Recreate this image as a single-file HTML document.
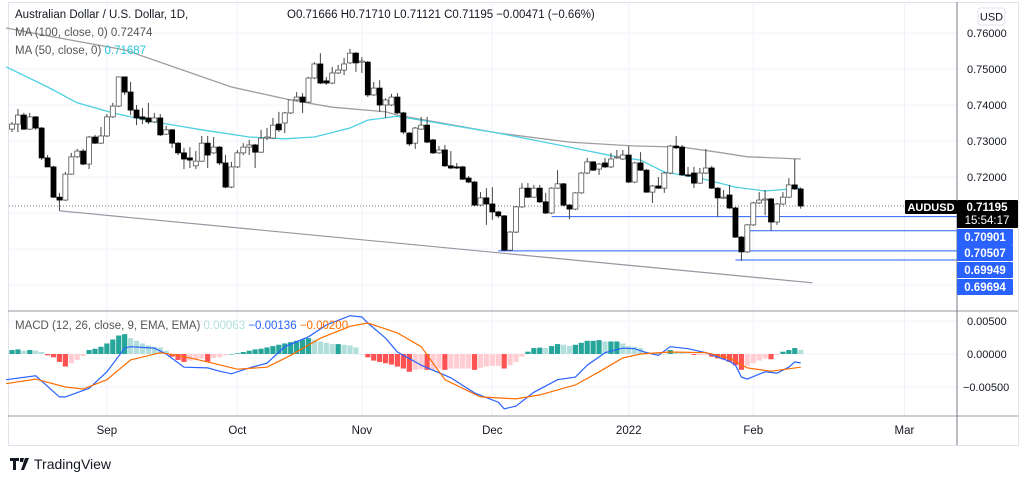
<!DOCTYPE html>
<html><head><meta charset="utf-8">
<style>
html,body{margin:0;padding:0;background:#fff;width:1024px;height:480px;overflow:hidden;font-family:"Liberation Sans",sans-serif;}
svg text{font-family:"Liberation Sans",sans-serif;}
</style></head>
<body>
<svg id="chart" width="1024" height="480" viewBox="0 0 1024 480" xmlns="http://www.w3.org/2000/svg">
<rect x="8.5" y="2.5" width="1010" height="443" fill="#fff" stroke="#e0e3eb"/>
<g id="grid"></g>
<g id="price"></g>
<g id="macd"></g>
<line x1="8" y1="311" x2="1018" y2="311" stroke="#9598a1"/>
<line x1="8" y1="416" x2="1018" y2="416" stroke="#9598a1"/>
<line x1="957" y1="2" x2="957" y2="445" stroke="#787b86"/>
<g id="axes"></g>
<g font-size="11.5" fill="#131722">
<text x="15" y="18" fill="#131722">Australian Dollar / U.S. Dollar, 1D,</text>
<text x="287" y="18" fill="#131722">O0.71666  H0.71710  L0.71121  C0.71195  −0.00471 (−0.66%)</text>
<text x="15" y="36" fill="#555">MA (100, close, 0)  <tspan fill="#555">0.72474</tspan></text>
<text x="15" y="54" fill="#555">MA (50, close, 0)  <tspan fill="#26c6da">0.71687</tspan></text>
<text x="15" y="329" fill="#555">MACD (12, 26, close, 9, EMA, EMA)  <tspan fill="#b2dfdb">0.00063</tspan>  <tspan fill="#2962ff">−0.00136</tspan>  <tspan fill="#ff6d00">−0.00200</tspan></text>
</g>
<g><rect x="978" y="8" width="27" height="17" rx="3" fill="#fff" stroke="#e0e3eb"/><text x="991.5" y="20.5" font-size="11" text-anchor="middle" fill="#131722">USD</text></g>
<g>
<path d="M10 458h9v3h-3v9h-3v-9h-3z M20 458h4l-1 4h-3z M25 458h4l-5 12h-3z" fill="#131722"/>
<text x="34" y="469" font-size="14" fill="#131722">TradingView</text></g>
</svg>
<script>
// ---- data ----
const dates=["Sep","Oct","Nov","Dec","2022","Feb","Mar"];
const dateIdx=[16,38,59,81,104,125,150.5];
const priceTicks=[0.76,0.75,0.74,0.73,0.72,0.71];
const macdTicks=[0.005,0,-0.005];
const opens=[.7333,.7347,.7372,.7333,.7367,.7336,.7253,.7228,.7144,.7136,.7208,.7256,.7272,.7236,.7311,.7294,.7314,.7367,.7397,.7478,.7436,.7386,.7367,.7364,.7353,.7364,.7319,.7331,.7294,.7267,.7253,.7231,.7244,.7294,.7267,.7283,.7239,.7172,.7228,.7267,.7283,.7289,.7269,.7308,.7308,.7347,.7350,.7378,.7414,.7422,.7408,.7475,.7514,.7467,.7461,.7489,.7497,.7517,.7544,.7519,.7519,.7428,.7447,.7400,.7400,.7422,.7378,.7322,.7294,.7333,.7344,.7303,.7267,.7275,.7231,.7228,.7228,.7197,.7186,.7122,.7142,.7125,.7103,.7092,.6997,.7047,.7117,.7169,.7144,.7169,.7131,.7100,.7169,.7181,.7122,.7111,.7156,.7211,.7242,.7222,.7239,.7228,.7253,.7250,.7261,.7186,.7239,.7219,.7158,.7175,.7169,.7211,.7286,.7283,.7206,.7211,.7183,.7211,.7225,.7169,.7142,.7150,.7114,.7033,.6992,.7067,.7128,.7136,.7139,.7075,.7125,.7144,.7178,.71666];
const closes=[.7347,.7372,.7333,.7367,.7336,.7253,.7228,.7144,.7136,.7208,.7256,.7272,.7236,.7311,.7294,.7314,.7367,.7397,.7478,.7436,.7386,.7364,.7361,.7353,.7364,.7317,.7331,.7294,.7267,.7250,.7247,.7244,.7294,.7261,.7283,.7239,.7172,.7228,.7267,.7283,.7289,.7269,.7308,.7311,.7344,.7331,.7378,.7414,.7422,.7408,.7475,.7514,.7461,.7461,.7489,.7497,.7514,.7544,.7517,.7522,.7428,.7447,.7400,.7414,.7422,.7378,.7325,.7292,.7336,.7344,.7297,.7267,.7275,.7231,.7225,.7225,.7194,.7186,.7122,.7142,.7125,.7103,.7092,.6997,.7047,.7117,.7169,.7144,.7169,.7131,.7100,.7169,.7181,.7122,.7111,.7156,.7211,.7242,.7219,.7236,.7228,.7250,.7256,.7261,.7186,.7239,.7219,.7158,.7175,.7169,.7211,.7286,.7281,.7206,.7203,.7183,.7211,.7225,.7169,.7142,.7144,.7114,.7033,.6992,.7067,.7128,.7136,.7139,.7075,.7125,.7144,.7178,.7167,.71195];
const highs=[.7353,.7389,.7378,.7378,.7369,.7339,.7261,.7231,.7156,.7214,.7267,.7278,.7278,.7314,.7317,.7339,.7375,.7406,.7478,.7478,.7464,.7400,.7392,.7406,.7378,.7375,.7342,.7333,.7297,.7281,.7283,.7272,.7314,.7314,.7311,.7286,.7261,.7242,.7275,.7294,.7303,.7292,.7331,.7336,.7364,.7381,.7381,.7414,.7436,.7433,.7478,.7519,.7544,.7478,.7506,.7511,.7531,.7556,.7547,.7533,.7522,.7464,.7469,.7419,.7431,.7433,.7381,.7325,.7339,.7367,.7367,.7306,.7286,.7289,.7272,.7239,.7231,.7203,.7189,.7158,.7169,.7172,.7106,.7094,.7050,.7119,.7183,.7183,.7178,.7178,.7156,.7172,.7219,.7183,.7125,.7158,.7214,.7253,.7244,.7239,.7253,.7267,.7275,.7275,.7286,.7242,.7269,.7222,.7178,.7200,.7214,.7289,.7314,.7289,.7228,.7228,.7225,.7278,.7231,.7172,.7164,.7178,.7117,.7036,.7069,.7131,.7158,.7164,.7142,.7128,.7158,.7197,.7250,.71710];
const lows=[.7325,.7325,.7331,.7331,.7331,.7247,.7228,.7142,.7106,.7133,.7206,.7253,.7233,.7222,.7292,.7292,.7311,.7364,.7394,.7428,.7372,.7344,.7347,.7347,.7350,.7314,.7317,.7281,.7261,.7222,.7225,.7222,.7242,.7225,.7264,.7233,.7169,.7169,.7225,.7261,.7261,.7225,.7267,.7303,.7306,.7325,.7322,.7375,.7411,.7378,.7406,.7472,.7458,.7456,.7458,.7486,.7483,.7514,.7492,.7489,.7422,.7425,.7381,.7364,.7397,.7375,.7319,.7286,.7278,.7331,.7294,.7264,.7264,.7228,.7222,.7222,.7192,.7183,.7119,.7119,.7067,.7081,.7086,.6994,.6994,.7044,.7114,.7142,.7142,.7128,.7097,.7097,.7167,.7119,.7083,.7108,.7153,.7208,.7217,.7206,.7225,.7225,.7250,.7247,.7183,.7183,.7217,.7156,.7128,.7167,.7156,.7208,.7278,.7203,.7200,.7169,.7181,.7208,.7167,.7089,.7139,.7111,.7031,.6967,.6989,.7064,.7125,.7094,.7050,.7067,.7122,.7142,.7164,.71121];
const ma100Idx=[-1,8,19,37,47,54,63,65,82,94,105,113,119,124,133];
const ma100Val=[.7614,.7586,.7553,.7450,.7414,.7394,.7381,.7372,.7322,.7297,.7286,.7283,.7269,.7256,.7250];
const ma50Idx=[-1,6,11,17,24,32,40,46,51,57,60,65,82,94,102,106,110,116,122,127,133];
const ma50Val=[.7506,.7450,.7406,.7378,.7353,.7331,.7311,.7306,.7311,.7336,.7358,.7369,.7322,.7283,.7256,.7247,.7214,.7197,.7172,.7161,.7169];
const hist=[.0006,.0007,.0005,.0006,.0005,.0003,-.0002,-.0005,-.0012,-.0019,-.0014,-.0009,-.0003,.0006,.0008,.0011,.0016,.0022,.0028,.0030,.0024,.0020,.0016,.0013,.0011,.0010,.0005,-.0004,-.0009,-.0012,-.0010,-.0008,-.0007,-.0012,-.0006,-.0005,-.0002,.0000,.0001,.0003,.0005,.0007,.0008,.0010,.0012,.0014,.0016,.0018,.0020,.0022,.0024,.0021,.0019,.0017,.0015,.0015,.0014,.0013,.0010,.0000,-.0005,-.0010,-.0012,-.0014,-.0016,-.0019,
-.0022,-.0027,-.0024,-.0023,-.0024,-.0024,-.0022,-.0024,-.0022,-.0022,-.0022,-.0022,-.0024,-.0021,-.0019,-.0018,-.0018,-.0022,-.0017,-.0012,-.0004,.00035,.0009,.00096,.0009,.0012,.0015,.0014,.0012,.0014,.0017,.0020,.0020,.0021,.0019,.0019,.0019,.0016,.0012,.0011,.0009,.00035,.0002,.0001,0,.0006,.00035,.0002,.0001,-.00015,-.00015,-.0001,-.0004,-.00066,-.0008,-.0012,-.0017,-.0024,-.0018,-.0014,-.0010,-.0007,-.0008,-.00015,.00035,.0006,.0009,.00063];
const macdIdx=[-1,4,8,9,13,16,19,20,24,26,29,33,35,37,40,43,46,50,53,57,59,60,63,65,69,74,78,82,83,85,88,92,95,97,100,103,105,107,109,111,114,117,121,122,123,124,127,129,131,132,133];
const macdVal=[-.0039,-.0033,-.0065,-.0065,-.0052,-.0027,.0009,.0011,.0009,0,-.0020,-.0021,-.0026,-.0030,-.0021,-.0014,.0011,.0026,.0044,.0058,.0056,.0047,.0024,.0003,-.0017,-.0036,-.0059,-.0073,-.0083,-.0079,-.0058,-.0039,-.0035,-.0017,.0002,.0009,.0008,.0002,-.0002,.0011,.0008,.0002,-.0011,-.0017,-.0035,-.0038,-.0027,-.0029,-.0020,-.0012,-.00136];
const sigIdx=[-1,4,9,12,16,20,25,28,33,38,43,47,52,57,60,65,69,73,79,85,89,95,99,103,106,111,117,121,124,128,133];
const sigVal=[-.0045,-.0038,-.0050,-.0053,-.0039,-.0009,.0002,-.0002,-.0012,-.0023,-.0020,-.0002,.0024,.0042,.0047,.0032,.0011,-.0039,-.0065,-.0068,-.0062,-.0047,-.0027,-.0006,0,.0003,.0002,-.0006,-.0021,-.0026,-.0020];
const hLevels=[0.70901,0.70507,0.69949,0.69694];
const hStart=[91,124,82,122];
const trendIdx=[8,135];
const trendVal=[0.7106,0.6906];
const lastPrice=0.71195;

// ---- scales ----
const X0=12, DX=5.93;
const xs=i=>X0+i*DX;
const ys=p=>33+(0.76-p)*3600;
const ym=v=>354-v*6600;
const NS='http://www.w3.org/2000/svg';
function mk(tag,attrs,parent){const e=document.createElementNS(NS,tag);for(const k in attrs)e.setAttribute(k,attrs[k]);parent.appendChild(e);return e;}
const grid=document.getElementById('grid'),pr=document.getElementById('price'),md=document.getElementById('macd'),ax=document.getElementById('axes');

// grid
priceTicks.forEach(t=>{const l=mk('line',{x1:9,x2:957,y1:ys(t),y2:ys(t),stroke:'#f0f3fa'},grid);


const tx=mk('text',{x:967,y:ys(t)+4,'font-size':11,fill:'#131722'},ax);tx.textContent=t.toFixed(5);

});
[0.70,0.69].forEach(t=>{const l=mk('line',{x1:9,x2:957,y1:ys(t),y2:ys(t),stroke:'#f0f3fa'},grid);

});
macdTicks.forEach(t=>{const l=mk('line',{x1:9,x2:957,y1:ym(t),y2:ym(t),stroke:'#f0f3fa'},grid);


const tx=mk('text',{x:t<0?963:967,y:ym(t)+4,'font-size':11,fill:'#131722'},ax);tx.textContent=(t<0?'−':'')+Math.abs(t).toFixed(5);

});
dates.forEach((d,k)=>{const x=xs(dateIdx[k]);const l=mk('line',{x1:x,x2:x,y1:3,y2:416,stroke:'#f0f3fa'},grid);


const tx=mk('text',{x:x,y:434,'font-size':11.5,fill:'#131722','text-anchor':'middle'},ax);tx.textContent=d;

});

// trend line
const tl=mk('line',{x1:xs(trendIdx[0]),y1:ys(trendVal[0]),x2:xs(trendIdx[1]),y2:ys(trendVal[1]),stroke:'#9598a1','stroke-width':1.2},pr);


// last price dotted
const dl=mk('line',{x1:9,x2:905,y1:ys(lastPrice),y2:ys(lastPrice),stroke:'#787b86','stroke-dasharray':'1 2'},pr);


// horizontal levels
hLevels.forEach((v,k)=>{const l=mk('line',{x1:xs(hStart[k]),x2:957,y1:ys(v),y2:ys(v),stroke:'#2962ff','stroke-width':1},pr);

});
// MAs
function poly(idx,val,sc,color,name,parent,w){const pts=idx.map((i,k)=>xs(i).toFixed(1)+','+sc(val[k]).toFixed(1)).join(' ');
const p=mk('polyline',{points:pts,fill:'none',stroke:color,'stroke-width':w},parent);

}
poly(ma100Idx,ma100Val,ys,'#9e9e9e','ma100-line',pr,1.3);
poly(ma50Idx,ma50Val,ys,'#4dd0e1','ma50-line',pr,1.3);
// candles
opens.forEach((o,i)=>{const c=closes[i],x=xs(i);const up=c>=o;
const w=mk('line',{x1:x,x2:x,y1:ys(highs[i]),y2:ys(lows[i]),stroke:'#444','stroke-width':1},pr);


const top=ys(Math.max(o,c)),bot=ys(Math.min(o,c));
const r=mk('rect',{x:x-2.5,y:top,width:5,height:Math.max(1,bot-top),fill:up?'#fff':'#000',stroke:up?'#555':'#000','stroke-width':0.8},pr);

});
// histogram
hist.forEach((v,i)=>{const prev=i>0?hist[i-1]:v;let col;
if(v>=0)col=v>=prev?'#26a69a':'#b2dfdb';else col=v<prev?'#ff5252':'#ffcdd2';
const y0=ym(0),y1=ym(v);
const r=mk('rect',{x:xs(i)-2.6,y:Math.min(y0,y1),width:5.2,height:Math.max(0.5,Math.abs(y1-y0)),fill:col},md);

});
poly(macdIdx,macdVal,ym,'#2962ff','macd-line',md,1.2);
poly(sigIdx,sigVal,ym,'#ff6d00','signal-line',md,1.2);

// price labels
function box(x,y,w,h,fill,text,name,fs){const g=mk('g',{},ax);


mk('rect',{x:x,y:y,width:w,height:h,fill:fill,rx:1},g);
const t=mk('text',{x:x+w/2,y:y+h/2+4,'font-size':fs||11.5,'font-weight':'bold',fill:'#fff','text-anchor':'middle'},g);t.textContent=text;return g;}
box(905,200,52,14,'#000','AUDUSD','symbol-label',11);
box(957,200,61,28,'#000','','last-price-box');
const lp=mk('text',{x:987,y:211,'font-size':11.5,'font-weight':'bold',fill:'#fff','text-anchor':'middle'},ax);lp.textContent=lastPrice.toFixed(5);


const cd=mk('text',{x:987,y:224,'font-size':11.5,fill:'#fff','text-anchor':'middle'},ax);cd.textContent='15:54:17';


const labY=[229,245,262,279];
hLevels.forEach((v,k)=>box(957,labY[k],56,16,'#2962ff',v.toFixed(5),'level-price-label'));
</script>
</body></html>
